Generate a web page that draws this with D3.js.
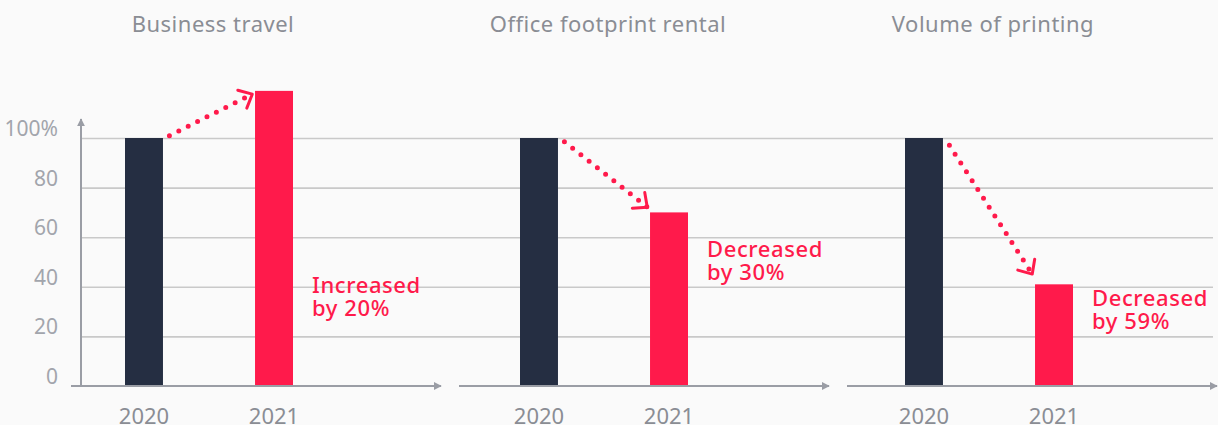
<!DOCTYPE html>
<html>
<head>
<meta charset="utf-8">
<script src="https://cdn.jsdelivr.net/npm/d3@7"></script>
<style>
  html, body { margin: 0; padding: 0; background: #fafafa; }
  svg { display: block; font-family: "Noto Sans", "Open Sans", sans-serif; }
</style>
</head>
<body>
<script>
// ---------- data
var panels = ["Business travel", "Office footprint rental", "Volume of printing"];
var years = ["2020", "2021"];
var values2020 = [100, 100, 100];
var values2021 = [119, 70, 41];
var notes1 = ["Increased", "Decreased", "Decreased"];
var notes2 = ["by 20%", "by 30%", "by 59%"];
var yTicks = [0, 20, 40, 60, 80, 100];

// ---------- layout
var w = 1218, h = 425;
var navy = "#252e42", red = "#ff1a4b", grey = "#9a9da5";
var barStart = [125, 520, 905];      // left edge of each panel's 2020 bar
var axisStart = [71, 459, 847];      // x axis of each panel
var axisLen = 370;
var noteY = [293, 257, 306];         // baseline of first note line

var svg = d3.select("body").append("svg")
  .attr("width", w)
  .attr("height", h);

var defs = svg.append("defs");
defs.append("marker")
  .attr("id", "tri")
  .attr("viewBox", "0 0 10 10")
  .attr("refX", 9).attr("refY", 5)
  .attr("markerWidth", 8).attr("markerHeight", 8)
  .attr("markerUnits", "userSpaceOnUse")
  .attr("orient", "auto")
  .append("path")
  .attr("d", "M0,0L10,5L0,10Z")
  .attr("fill", grey);

// y scale shared by all panels
var yScale = d3.scaleLinear()
  .domain([0, 100])
  .range([386, 138]);

// gridlines
var grid = d3.axisLeft(yScale)
  .tickValues(yTicks.slice(1))
  .tickSize(-(1213 - 81))
  .tickFormat("");
svg.append("g")
  .attr("transform", "translate(81,0)")
  .call(grid)
  .call(function(g) {
    g.select(".domain").remove();
    g.selectAll("line").attr("stroke", "#c9c9c9").attr("stroke-width", 1.6);
  });

// y tick labels (sit just above their gridline)
var yAxis = d3.axisLeft(yScale)
  .tickValues(yTicks)
  .tickSize(0)
  .tickPadding(23)
  .tickFormat(function(d) { return d === 100 ? "100%" : d; });
svg.append("g")
  .attr("transform", "translate(81,0)")
  .call(yAxis)
  .call(function(g) {
    g.select(".domain").remove();
    g.selectAll("text")
      .attr("dy", "-0.12em")
      .attr("font-size", 21)
      .attr("font-family", "'Noto Sans', sans-serif")
      .attr("fill", "#a2a5ac");
  });

// y axis line with arrow
svg.append("line")
  .attr("x1", 81).attr("x2", 81)
  .attr("y1", 386).attr("y2", 119)
  .attr("stroke", grey).attr("stroke-width", 2)
  .attr("marker-end", "url(#tri)");

panels.forEach(function(name, i) {
  var g = svg.append("g");

  var xScale = d3.scaleBand()
    .domain(years)
    .range([barStart[i], barStart[i] + 168])
    .paddingInner(0.708)
    .paddingOuter(0);

  var vals = [values2020[i], values2021[i]];

  // bars
  g.selectAll("rect")
    .data(years)
    .enter()
    .append("rect")
    .attr("x", function(d) { return xScale(d); })
    .attr("y", function(d, j) { return yScale(vals[j]); })
    .attr("width", xScale.bandwidth())
    .attr("height", function(d, j) { return yScale(0) - yScale(vals[j]); })
    .attr("fill", function(d, j) { return j === 0 ? navy : red; });

  // x axis line with arrow
  g.append("line")
    .attr("x1", axisStart[i]).attr("x2", axisStart[i] + axisLen)
    .attr("y1", 386).attr("y2", 386)
    .attr("stroke", grey).attr("stroke-width", 2)
    .attr("marker-end", "url(#tri)");

  // year labels (cut by the bottom edge, as in the original)
  var xAxis = d3.axisBottom(xScale).tickSize(0).tickPadding(0);
  g.append("g")
    .attr("transform", "translate(0,424)")
    .call(xAxis)
    .call(function(a) {
      a.select(".domain").remove();
      a.selectAll("text")
        .attr("dy", 0)
        .attr("y", 0)
        .attr("font-size", 22)
        .attr("font-family", "'Noto Sans', sans-serif")
        .attr("fill", "#8a8d94");
    });

  // panel title, centred over the two bars
  var mid = (xScale(years[0]) + xScale(years[1]) + xScale.bandwidth()) / 2;
  g.append("text")
    .attr("x", mid + 4)
    .attr("y", 32)
    .attr("text-anchor", "middle")
    .attr("font-size", 22)
    .attr("letter-spacing", 0.5)
    .attr("fill", "#8a8d94")
    .text(name);

  // dotted arrow from the top of 2020 to the top of 2021
  var ax = xScale(years[0]) + xScale.bandwidth(), ay = yScale(vals[0]);
  var bx = xScale(years[1]), by = yScale(vals[1]);
  var sx = ax + (bx - ax) * 0.07, sy = ay + (by - ay) * 0.05;
  var ex = ax + (bx - ax) * 0.97, ey = ay + (by - ay) * 0.93;
  g.append("line")
    .attr("x1", sx).attr("y1", sy)
    .attr("x2", ex).attr("y2", ey)
    .attr("stroke", red)
    .attr("stroke-width", 5)
    .attr("stroke-linecap", "round")
    .attr("stroke-dasharray", "0 10.5");

  var ang = Math.atan2(ey - sy, ex - sx) + Math.PI;
  var len = 15, spread = 42 * Math.PI / 180;
  var head = d3.path();
  head.moveTo(ex + len * Math.cos(ang - spread), ey + len * Math.sin(ang - spread));
  head.lineTo(ex, ey);
  head.lineTo(ex + len * Math.cos(ang + spread), ey + len * Math.sin(ang + spread));
  g.append("path")
    .attr("d", head.toString())
    .attr("fill", "none")
    .attr("stroke", red)
    .attr("stroke-width", 3)
    .attr("stroke-linecap", "round")
    .attr("stroke-linejoin", "round");

  // note next to the 2021 bar
  var nx = bx + xScale.bandwidth() + 19;
  var note = g.append("text")
    .attr("x", nx)
    .attr("y", noteY[i])
    .attr("font-size", 22)
    .attr("font-weight", 500)
    .attr("letter-spacing", 0.6)
    .attr("fill", red);
  note.append("tspan").text(notes1[i]);
  note.append("tspan")
    .attr("x", nx)
    .attr("dy", 23)
    .text(notes2[i]);
});
</script>
</body>
</html>
